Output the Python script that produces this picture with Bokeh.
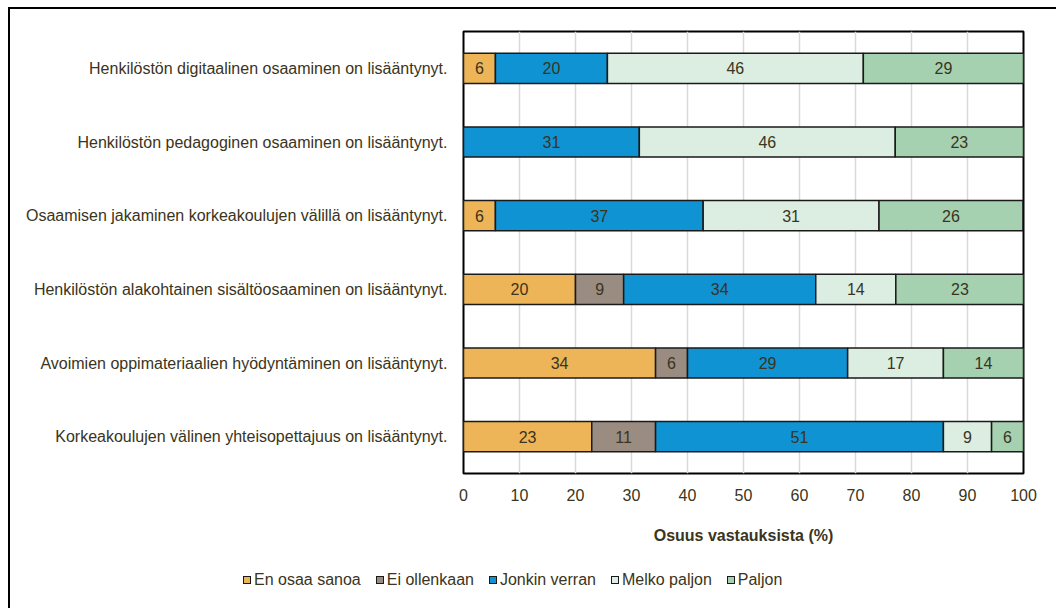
from bokeh.plotting import figure
from bokeh.layouts import column
from bokeh.models import ColumnDataSource, FactorRange, FixedTicker, LabelSet, Div
from bokeh.core.properties import value
from bokeh.embed import file_html
from bokeh.resources import INLINE

categories = [
    "Henkilöstön digitaalinen osaaminen on lisääntynyt.",
    "Henkilöstön pedagoginen osaaminen on lisääntynyt.",
    "Osaamisen jakaminen korkeakoulujen välillä on lisääntynyt.",
    "Henkilöstön alakohtainen sisältöosaaminen on lisääntynyt.",
    "Avoimien oppimateriaalien hyödyntäminen on lisääntynyt.",
    "Korkeakoulujen välinen yhteisopettajuus on lisääntynyt.",
]
series_names = ["En osaa sanoa", "Ei ollenkaan", "Jonkin verran", "Melko paljon", "Paljon"]
en_osaa_sanoa = [5.7, 0.0, 5.7, 20.0, 34.3, 22.9]
ei_ollenkaan = [0.0, 0.0, 0.0, 8.6, 5.7, 11.4]
jonkin_verran = [20.0, 31.4, 37.1, 34.3, 28.6, 51.4]
melko_paljon = [45.7, 45.7, 31.4, 14.3, 17.1, 8.6]
paljon = [28.6, 22.9, 25.7, 22.9, 14.3, 5.7]
series_values = [en_osaa_sanoa, ei_ollenkaan, jonkin_verran, melko_paljon, paljon]
colors = ["#EDB558", "#9A8C80", "#0F93D2", "#DCEEE2", "#A6D1B1"]
x_ticks = [0, 10, 20, 30, 40, 50, 60, 70, 80, 90, 100]

TXT = "#3A3420"
FONT = "Liberation Sans"

p = figure(
    width=1046, height=549,
    y_range=FactorRange(factors=list(reversed(categories))),
    x_range=(0, 100),
    output_backend="svg", toolbar_location=None,
    min_border_left=453, min_border_right=33, min_border_top=22, min_border_bottom=85,
)
p.background_fill_color = "white"
p.border_fill_color = "white"
p.outline_line_color = "#000000"
p.outline_line_width = 2

left = [0.0] * len(categories)
for name, vals, col in zip(series_names, series_values, colors):
    cats, lefts, rights, mids, labels = [], [], [], [], []
    for i, v in enumerate(vals):
        if v > 0:
            cats.append(categories[i])
            lefts.append(left[i])
            rights.append(left[i] + v)
            mids.append(left[i] + v / 2)
            labels.append(f"{v:.0f}")
        left[i] += v
    src = ColumnDataSource(dict(y=cats, left=lefts, right=rights, mid=mids, label=labels))
    p.hbar(y="y", left="left", right="right", height=0.41, source=src,
           fill_color=col, line_color="#1a1a1a", line_width=1.5)
    ls = LabelSet(x="mid", y="y", text="label", source=src, text_align="center",
                  text_baseline="middle", text_color=TXT, text_font_size="16px",
                  text_font=value(FONT))
    p.add_layout(ls)

p.xgrid.ticker = FixedTicker(ticks=x_ticks)
p.xgrid.grid_line_color = "#D9D9D9"
p.xgrid.grid_line_width = 1.5
p.ygrid.grid_line_color = None

p.xaxis.ticker = FixedTicker(ticks=x_ticks)
p.xaxis.axis_line_color = None
p.xaxis.major_tick_line_color = None
p.xaxis.minor_tick_line_color = None
p.xaxis.major_label_standoff = 9
p.xaxis.major_label_text_font = FONT
p.xaxis.major_label_text_font_size = "16px"
p.xaxis.major_label_text_color = TXT
p.xaxis.axis_label = "Osuus vastauksista (%)"
p.xaxis.axis_label_text_font = FONT
p.xaxis.axis_label_text_font_size = "16px"
p.xaxis.axis_label_text_font_style = "bold"
p.xaxis.axis_label_text_color = TXT
p.xaxis.axis_label_standoff = 23

p.yaxis.axis_line_color = None
p.yaxis.major_tick_line_color = None
p.yaxis.minor_tick_line_color = None
p.yaxis.major_label_standoff = 10
p.yaxis.major_label_text_font = FONT
p.yaxis.major_label_text_font_size = "16px"
p.yaxis.major_label_text_color = TXT

# legend strip
legend_items_html = "".join(
    f'<span style="display:inline-flex;align-items:center;margin-right:15px;">'
    f'<span style="display:inline-block;width:8px;height:8px;background:{c};'
    f'border:1.5px solid #1a1a1a;margin-right:3px;"></span>{n}</span>'
    for n, c in zip(series_names, colors)
)
legend_div = Div(
    text=f'<div style="display:flex;align-items:center;white-space:nowrap;'
         f'font-family:\'Liberation Sans\';font-size:16px;color:{TXT};'
         f'padding-left:233px;padding-top:12px;line-height:20px;">{legend_items_html}</div>',
    width=1046, height=50,
    styles={"margin": "0px", "background-color": "white"},
)

layout = column(p, legend_div, spacing=0,
                styles={"margin-left": "8px", "margin-top": "7px",
                        "border-left": "2px solid #000000", "border-top": "2px solid #000000"})

open("out.html", "w").write(file_html(layout, INLINE))
